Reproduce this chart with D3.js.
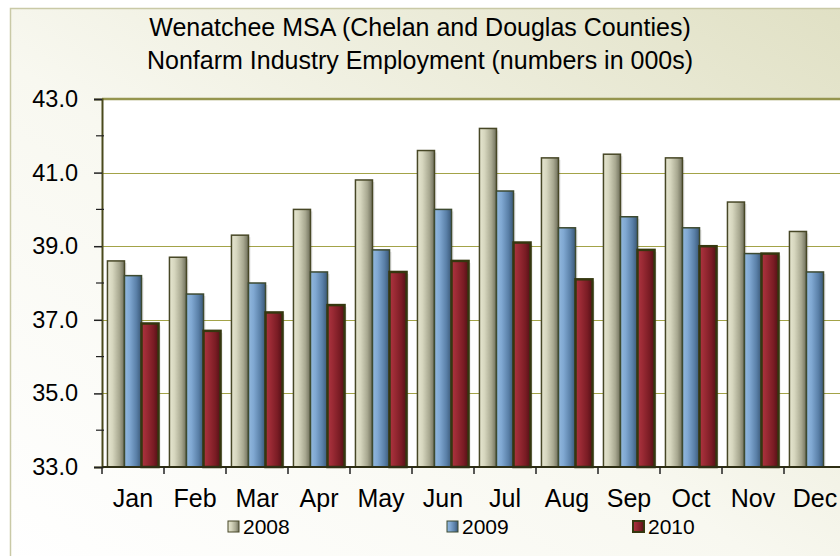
<!DOCTYPE html>
<html>
<head>
<meta charset="utf-8">
<script src="https://cdn.jsdelivr.net/npm/d3@7"></script>
<style>
  body { margin: 0; background: #ffffff; }
  svg { display: block; font-family: "Liberation Sans", Arial, sans-serif; }
</style>
</head>
<body>
<div id="chart"></div>
<script>
// Data (thousands of jobs)
var months = ["Jan", "Feb", "Mar", "Apr", "May", "Jun", "Jul", "Aug", "Sep", "Oct", "Nov", "Dec"];
var seriesNames = ["2008", "2009", "2010"];
var values2008 = [38.6, 38.7, 39.3, 40.0, 40.8, 41.6, 42.2, 41.4, 41.5, 41.4, 40.2, 39.4];
var values2009 = [38.2, 37.7, 38.0, 38.3, 38.9, 40.0, 40.5, 39.5, 39.8, 39.5, 38.8, 38.3];
var values2010 = [36.9, 36.7, 37.2, 37.4, 38.3, 38.6, 39.1, 38.1, 38.9, 39.0, 38.8, null];
var yTicks = [33, 35, 37, 39, 41, 43];
var yMinorTicks = [34, 36, 38, 40, 42];
var titleLines = ["Wenatchee MSA (Chelan and Douglas Counties)", "Nonfarm Industry Employment (numbers in 000s)"];

var Width = 840, Height = 556;
var Plot = { left: 102, top: 99, bottom: 467, right: 846 };

var svg = d3.select("#chart").append("svg")
    .attr("width", Width).attr("height", Height);
var defs = svg.append("defs");

// Chart area gradient: white bottom-left, khaki top-right
var bg = defs.append("linearGradient").attr("id", "bg")
    .attr("x1", "0").attr("y1", "1").attr("x2", "1").attr("y2", "0");
bg.append("stop").attr("offset", "0").attr("stop-color", "#ffffff");
bg.append("stop").attr("offset", "0.45").attr("stop-color", "#f8f8f0");
bg.append("stop").attr("offset", "1").attr("stop-color", "#e0e0c4");

// Cylinder-like horizontal gradients for the bars
var barStyles = {
    "2008": { stops: ["#e6e6d0", "#d6d6be", "#a8a890", "#6e6e5a"], stroke: "#474726", width: 1.5 },
    "2009": { stops: ["#92b8de", "#80a8d2", "#5a80a8", "#3a5878"], stroke: "#3d4a30", width: 1.5 },
    "2010": { stops: ["#ad3440", "#9a2a34", "#7a1c24", "#521016"], stroke: "#35370f", width: 2.5 }
};
seriesNames.forEach(function (Name) {
    var G = defs.append("linearGradient").attr("id", "g" + Name)
        .attr("x1", "0").attr("y1", "0").attr("x2", "1").attr("y2", "0");
    barStyles[Name].stops.forEach(function (C, I) {
        G.append("stop").attr("offset", [0, 0.3, 0.7, 1][I]).attr("stop-color", C);
    });
});

// Chart area
svg.append("rect").attr("x", 10.5).attr("y", 8.5).attr("width", Width).attr("height", Height)
    .attr("fill", "url(#bg)").attr("stroke", "#c9c9a6").attr("stroke-width", 1.5);

// Title
svg.append("g").selectAll("text").data(titleLines).join("text")
    .attr("x", 420).attr("y", function (D, I) { return 36 + I * 33; })
    .attr("text-anchor", "middle").attr("font-size", 25).attr("fill", "#000")
    .text(function (D) { return D; });

// Scales
var x = d3.scaleBand().domain(months).range([Plot.left, Plot.right]).paddingInner(0).paddingOuter(0);
var x1 = d3.scaleBand().domain(seriesNames).range([0, x.bandwidth()]).paddingOuter(0.32).paddingInner(0);
var y = d3.scaleLinear().domain([33, 43]).range([Plot.bottom, Plot.top]);

// Plot area
svg.append("rect").attr("x", Plot.left).attr("y", Plot.top)
    .attr("width", Plot.right - Plot.left).attr("height", Plot.bottom - Plot.top).attr("fill", "#ffffff");

// Gridlines
svg.append("g").selectAll("line").data(yTicks.filter(function (T) { return T > 33 && T < 43; })).join("line")
    .attr("x1", Plot.left).attr("x2", Plot.right)
    .attr("y1", function (D) { return Math.round(y(D)) + 0.5; })
    .attr("y2", function (D) { return Math.round(y(D)) + 0.5; })
    .attr("stroke", "#a3a348").attr("stroke-width", 1.2);
// Top border of plot area
svg.append("line").attr("x1", Plot.left).attr("x2", Plot.right)
    .attr("y1", y(43)).attr("y2", y(43)).attr("stroke", "#95954e").attr("stroke-width", 2.5);

// Bars
var allSeries = { "2008": values2008, "2009": values2009, "2010": values2010 };
var barData = [];
months.forEach(function (M, I) {
    seriesNames.forEach(function (S) {
        var V = allSeries[S][I];
        if (V !== null) barData.push({ month: M, series: S, value: V });
    });
});
var Bars = svg.append("g");
// soft shadow
Bars.selectAll("rect.shadow").data(barData).join("rect").attr("class", "shadow")
    .attr("x", function (D) { return x(D.month) + x1(D.series) + 2; })
    .attr("y", function (D) { return y(D.value) + 2; })
    .attr("width", x1.bandwidth())
    .attr("height", function (D) { return Plot.bottom - y(D.value) - 2; })
    .attr("fill", "#000").attr("opacity", 0.1);
Bars.selectAll("rect.bar").data(barData).join("rect").attr("class", "bar")
    .attr("x", function (D) { return x(D.month) + x1(D.series); })
    .attr("y", function (D) { return y(D.value); })
    .attr("width", x1.bandwidth())
    .attr("height", function (D) { return Plot.bottom - y(D.value); })
    .attr("fill", function (D) { return "url(#g" + D.series + ")"; })
    .attr("stroke", function (D) { return barStyles[D.series].stroke; })
    .attr("stroke-width", function (D) { return barStyles[D.series].width; });

// Y axis
var yAxis = svg.append("g").attr("transform", "translate(" + Plot.left + ",0)")
    .call(d3.axisLeft(y).tickValues(yTicks).tickFormat(d3.format(".1f")).tickSize(8).tickPadding(16));
yAxis.select(".domain").attr("stroke", "#4a4a1c").attr("stroke-width", 2);
yAxis.selectAll(".tick line").attr("stroke", "#222").attr("stroke-width", 1.5);
yAxis.selectAll("text").attr("font-size", 23.5).attr("fill", "#000")
    .attr("font-family", "Liberation Sans, Arial, sans-serif");
svg.append("g").selectAll("line").data(yMinorTicks).join("line")
    .attr("x1", Plot.left - 6).attr("x2", Plot.left + 2)
    .attr("y1", function (D) { return y(D); }).attr("y2", function (D) { return y(D); })
    .attr("stroke", "#222").attr("stroke-width", 1.2);

// X axis
var xAxis = svg.append("g").attr("transform", "translate(0," + Plot.bottom + ")")
    .call(d3.axisBottom(x).tickSize(0).tickPadding(22));
xAxis.select(".domain").remove();
svg.append("line").attr("x1", Plot.left).attr("x2", Plot.right)
    .attr("y1", Plot.bottom).attr("y2", Plot.bottom).attr("stroke", "#2e2e14").attr("stroke-width", 2);
svg.append("g").selectAll("line").data(months).join("line")
    .attr("x1", function (D) { return x(D); }).attr("x2", function (D) { return x(D); })
    .attr("y1", Plot.bottom).attr("y2", Plot.bottom + 7)
    .attr("stroke", "#222").attr("stroke-width", 1.5);
xAxis.selectAll("text").attr("font-size", 25).attr("fill", "#000")
    .attr("font-family", "Liberation Sans, Arial, sans-serif");

// Legend
var legendX = [228, 447, 633];
var Legend = svg.append("g").selectAll("g").data(seriesNames).join("g")
    .attr("transform", function (D, I) { return "translate(" + legendX[I] + ",521)"; });
Legend.append("rect").attr("width", 11).attr("height", 11)
    .attr("fill", function (D) { return "url(#g" + D + ")"; })
    .attr("stroke", function (D) { return barStyles[D].stroke; })
    .attr("stroke-width", function (D) { return D === "2010" ? 2 : 1; });
Legend.append("text").attr("x", 15).attr("y", 13).attr("font-size", 21).attr("fill", "#000")
    .text(function (D) { return D; });
</script>
</body>
</html>
